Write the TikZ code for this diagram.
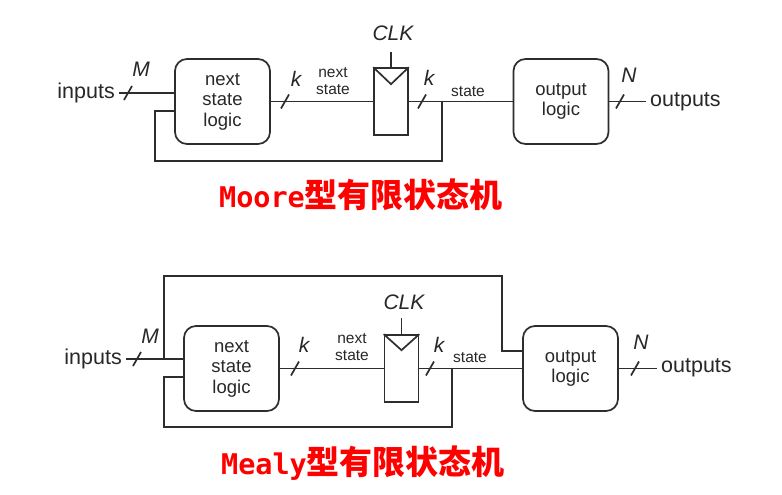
\documentclass[tikz,border=0pt]{standalone}
\usepackage{fontspec}
\setmainfont{Liberation Sans}
\newfontfamily\cjk{Noto Sans CJK SC}
\newfontfamily\titlemono{DejaVu Sans Mono}
\usetikzlibrary{calc}
\definecolor{linec}{RGB}{45,45,45}
\definecolor{txtc}{RGB}{40,40,40}
\definecolor{titlered}{RGB}{255,0,0}
\tikzset{
  wire/.style={draw=linec, line width=1.7pt},
  thickwire/.style={draw=linec, line width=2.6pt},
  logicbox/.style={draw=linec, line width=1.7pt, rounded corners=12pt,
    minimum width=95pt, minimum height=85pt, align=center, text=txtc,
    font=\fontsize{18.5}{20.5}\selectfont},
  regbox/.style={draw=linec, line width=1.7pt, minimum width=34pt,
    minimum height=67pt, inner sep=0pt},
  biglbl/.style={text=txtc, inner sep=4pt, font=\fontsize{21.5}{24}\selectfont},
  smalllbl/.style={text=txtc, inner sep=1pt, align=center,
    font=\fontsize{15.5}{17}\selectfont},
  itlbl/.style={text=txtc, inner sep=1pt, font=\fontsize{21}{24}\selectfont\itshape},
  titlelbl/.style={text=titlered, inner sep=0pt, font=\fontsize{33}{36}\selectfont}
}
\newcommand{\busmark}[1]{\draw[wire] ([shift={(-4pt,-7pt)}]#1) -- ([shift={(4pt,7pt)}]#1);}
\begin{document}
\begin{tikzpicture}[x=1pt,y=-1pt]
\useasboundingbox (0,0) rectangle (782,495);
\fill[white] (0,0) rectangle (782,495);

% ---------------- Moore ----------------
\node[logicbox] (ns1) at (222.5,101.5) {next\\state\\logic};
\node[regbox] (r1) at (391,101.5) {};
\node[logicbox] (ol1) at (561,101.5) {output\\logic};
\node[biglbl, anchor=east] (in1) at (119,93) {inputs};
\node[biglbl, anchor=west] (out1) at (646,102) {outputs};
\node[itlbl] (M1) at (141,69) {M};
\node[itlbl] (k1a) at (296,79) {k};
\node[itlbl] (k1b) at (429,78) {k};
\node[itlbl] (N1) at (629,75) {N};
\node[itlbl] (clk1) at (393,33) {CLK};
\node[smalllbl] (nsl1) at (333,81) {next\\state};
\node[smalllbl] (st1) at (468,92) {state};
\node[titlelbl] (t1) at (361,195) {{\titlemono\bfseries\fontsize{28.5}{30}\selectfont Moore}{\cjk\bfseries 型有限状态机}};

\coordinate (nsin1) at (175,111);
\coordinate (j1) at (442,101.5);
\coordinate (fb1) at (155,161);
\coordinate (c1) at (391,52);
\coordinate (s1a) at (128,93);
\coordinate (s1b) at (285,101.5);
\coordinate (s1c) at (422,101.5);
\coordinate (s1d) at (620,101.5);

\draw[wire] (in1.east) -- (ns1.west |- in1.east);
\draw[wire] (ns1.east) -- (r1.west);
\draw[wire] (r1.east) -- (ol1.west);
\draw[wire] (ol1.east) -- (out1.west |- ol1.east);
\draw[wire] (j1) |- (fb1) |- (nsin1);
\draw[wire] (c1) -- (r1.north);
\draw[wire, line join=miter] (r1.north west) -- ([yshift=-17pt]r1.north) -- (r1.north east);
\busmark{s1a}
\busmark{s1b}
\busmark{s1c}
\busmark{s1d}

% ---------------- Mealy ----------------
\node[logicbox] (ns2) at (231.5,368.5) {next\\state\\logic};
\node[regbox] (r2) at (401.5,368.5) {};
\node[logicbox] (ol2) at (570.5,368.5) {output\\logic};
\node[biglbl, anchor=east] (in2) at (126,359) {inputs};
\node[biglbl, anchor=west] (out2) at (657,368) {outputs};
\node[itlbl] (M2) at (150,336) {M};
\node[itlbl] (k2a) at (304,345) {k};
\node[itlbl] (k2b) at (439,345) {k};
\node[itlbl] (N2) at (641,342) {N};
\node[itlbl] (clk2) at (404,302) {CLK};
\node[smalllbl] (nsl2) at (352,347) {next\\state};
\node[smalllbl] (st2) at (470,358) {state};
\node[titlelbl] (t2) at (363,463) {{\titlemono\bfseries\fontsize{28.5}{30}\selectfont Mealy}{\cjk\bfseries 型有限状态机}};

\coordinate (ji2) at (164,359);
\coordinate (top2) at (502,276);
\coordinate (olin2) at (523,351);
\coordinate (nsin2) at (184,377);
\coordinate (j2) at (452,368.5);
\coordinate (fb2) at (164,427);
\coordinate (c2) at (401.5,318);
\coordinate (s2a) at (137,359);
\coordinate (s2b) at (295,368.5);
\coordinate (s2c) at (430,368.5);
\coordinate (s2d) at (635,368.5);

\draw[wire] (in2.east) -- (ns2.west |- in2.east);
\draw[thickwire] (ji2) |- (top2) |- (olin2);
\draw[wire] (ns2.east) -- (r2.west);
\draw[wire] (r2.east) -- (ol2.west);
\draw[wire] (ol2.east) -- (out2.west |- ol2.east);
\draw[wire] (j2) |- (fb2) |- (nsin2);
\draw[wire] (c2) -- (r2.north);
\draw[wire, line join=miter] (r2.north west) -- ([yshift=-16pt]r2.north) -- (r2.north east);
\busmark{s2a}
\busmark{s2b}
\busmark{s2c}
\busmark{s2d}
\end{tikzpicture}
\end{document}
